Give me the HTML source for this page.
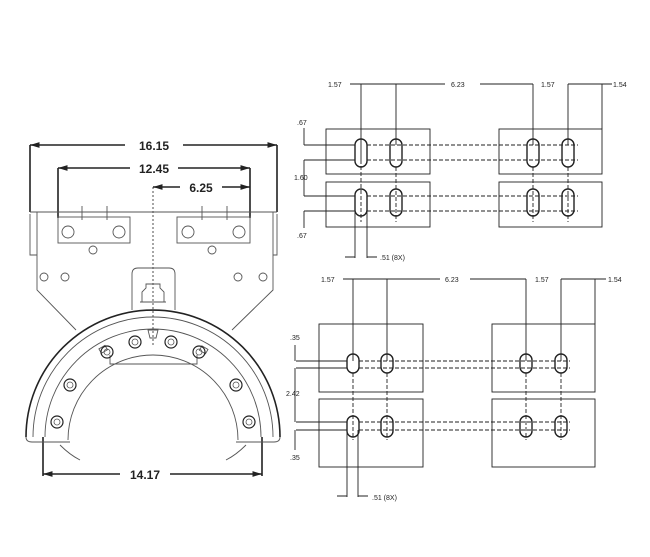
<!DOCTYPE html>
<html><head><meta charset="utf-8"><style>
html,body{margin:0;padding:0;background:#fff;}
svg{display:block;}
text{font-family:"Liberation Sans",sans-serif;fill:#222;}
.t{font-size:12px;font-weight:bold;}
.s{font-size:7px;}
</style></head><body>
<svg width="650" height="557" viewBox="0 0 650 557" xmlns="http://www.w3.org/2000/svg">
<defs>
<marker id="a" viewBox="0 0 10 10" refX="10" refY="5" markerWidth="6" markerHeight="6" orient="auto-start-reverse"><path d="M0,2 L10,5 L0,8 z" fill="#222"/></marker>
</defs>
<!-- LEFT DRAWING -->
<g stroke="#222" fill="none">
<!-- dims -->
<g stroke-width="1.6">
<line x1="30" y1="145" x2="125" y2="145" marker-start="url(#a)"/><line x1="183" y1="145" x2="277" y2="145" marker-end="url(#a)"/>
<line x1="58" y1="168" x2="130" y2="168" marker-start="url(#a)"/><line x1="178" y1="168" x2="250" y2="168" marker-end="url(#a)"/>
<line x1="153" y1="187" x2="180" y2="187" marker-start="url(#a)"/><line x1="222" y1="187" x2="250" y2="187" marker-end="url(#a)"/>
<line x1="43" y1="474" x2="120" y2="474" marker-start="url(#a)"/><line x1="170" y1="474" x2="262" y2="474" marker-end="url(#a)"/>
<line x1="30" y1="145" x2="30" y2="212"/><line x1="277" y1="145" x2="277" y2="212"/>
<line x1="58" y1="168" x2="58" y2="218"/><line x1="250" y1="168" x2="250" y2="218"/>
<line x1="43" y1="437" x2="43" y2="476"/><line x1="262" y1="437" x2="262" y2="476"/>
</g>
<line x1="153" y1="187" x2="153" y2="345" stroke-width="0.8" stroke-dasharray="2,2"/>
<g stroke="#555" stroke-width="0.9">
<!-- plate -->
<path d="M30,212 L277,212 M37,212 L37,290 L76,330 M273,212 L273,290 L232,330"/>
<path d="M30,214 L30,255 L37,255 M277,214 L277,255 L273,255"/>
<rect x="58" y="217" width="72" height="26"/><rect x="177" y="217" width="73" height="26"/>
<circle cx="68" cy="232" r="6"/><circle cx="119" cy="232" r="6"/><circle cx="188" cy="232" r="6"/><circle cx="239" cy="232" r="6"/>
<path d="M82,206 V220 M107,206 V220 M202,206 V220 M227,206 V220"/>
<circle cx="93" cy="250" r="4"/><circle cx="212" cy="250" r="4"/>
<circle cx="44" cy="277" r="4"/><circle cx="65" cy="277" r="4"/><circle cx="238" cy="277" r="4"/><circle cx="263" cy="277" r="4"/>
<!-- center mount -->
<path d="M132,310 V274 Q132,268 138,268 H169 Q175,268 175,274 V310"/>
<path d="M142,302 V292 L146,288 V284 H160 V288 L164,292 V302 M140,302 H166"/>
<!-- arc -->
<path d="M26,437 A127,127 0 0 1 280,437" stroke-width="1.6" stroke="#222"/>
<path d="M33,437 A120,120 0 0 1 273,437"/>
<path d="M26,437 Q26,442 32,442 L70,442 M280,437 Q280,442 274,442 L236,442"/>
<path d="M45,437 A108,108 0 0 1 261,437"/>
<path d="M68,440 A85,85 0 0 1 238,440"/>
<path d="M110,355 V364 H197 V355"/>
<path d="M148,330 H158 L156,338 H150 Z"/>
<path d="M60,445 Q70,455 80,460 M246,445 Q236,455 226,460"/>
<rect x="100" y="347" width="7" height="5" transform="rotate(-30 103 350)"/>
<rect x="200" y="347" width="7" height="5" transform="rotate(30 203 350)"/>
</g>
<g stroke="#222" stroke-width="1.2">
<circle cx="107" cy="352" r="6"/><circle cx="135" cy="342" r="6"/><circle cx="171" cy="342" r="6"/><circle cx="199" cy="352" r="6"/>
<circle cx="70" cy="385" r="6"/><circle cx="236" cy="385" r="6"/><circle cx="57" cy="422" r="6"/><circle cx="249" cy="422" r="6"/>
</g>
<g stroke="#555" stroke-width="0.8">
<circle cx="107" cy="352" r="3"/><circle cx="135" cy="342" r="3"/><circle cx="171" cy="342" r="3"/><circle cx="199" cy="352" r="3"/>
<circle cx="70" cy="385" r="3"/><circle cx="236" cy="385" r="3"/><circle cx="57" cy="422" r="3"/><circle cx="249" cy="422" r="3"/>
</g>
</g>
<g class="t">
<text x="154" y="150" text-anchor="middle" class="t">16.15</text>
<text x="154" y="173" text-anchor="middle" class="t">12.45</text>
<text x="201" y="192" text-anchor="middle" class="t">6.25</text>
<text x="145" y="479" text-anchor="middle" class="t">14.17</text>
</g>

<!-- TOP RIGHT -->
<g stroke="#222" fill="none" stroke-width="0.9">
<line x1="350" y1="84" x2="445" y2="84"/><line x1="480" y1="84" x2="533" y2="84"/><line x1="568" y1="84" x2="612" y2="84"/>
<path d="M361,84 V160 M396,84 V145 M533,84 V145 M568,84 V145 M602,84 V129"/>
<rect x="326" y="129" width="104" height="45"/><rect x="326" y="182" width="104" height="45"/>
<rect x="499" y="129" width="103" height="45"/><rect x="499" y="182" width="103" height="45"/>
<g stroke-width="1.4">
<rect x="355" y="139" width="12" height="28" rx="6"/><rect x="390" y="139" width="12" height="28" rx="6"/>
<rect x="527" y="139" width="12" height="28" rx="6"/><rect x="562" y="139" width="12" height="28" rx="6"/>
<rect x="355" y="189" width="12" height="27" rx="6"/><rect x="390" y="189" width="12" height="27" rx="6"/>
<rect x="527" y="189" width="12" height="27" rx="6"/><rect x="562" y="189" width="12" height="27" rx="6"/>
</g>
<path d="M304,145 H355 M304,160 H355 M304,196 H355 M304,211 H355"/>
<path d="M367,145 H578 M367,160 H578 M367,196 H578 M367,211 H578 M361,160 V222 M396,167 V222 M533,167 V222 M568,167 V222" stroke-dasharray="4,2"/>
<path d="M304,128 V145 M304,160 V196 M304,211 V228"/>
<path d="M355,210 V258 M367,210 V258 M345,257 H355 M367,257 H377"/>
</g>
<g class="s">
<text x="328" y="87">1.57</text><text x="451" y="87">6.23</text><text x="541" y="87">1.57</text><text x="613" y="87">1.54</text>
<text x="297" y="125">.67</text><text x="294" y="180">1.60</text><text x="297" y="238">.67</text>
<text x="380" y="260">.51 (8X)</text>
</g>

<!-- BOTTOM RIGHT -->
<g stroke="#222" fill="none" stroke-width="0.9">
<line x1="343" y1="279" x2="440" y2="279"/><line x1="470" y1="279" x2="526" y2="279"/><line x1="561" y1="279" x2="606" y2="279"/>
<path d="M353,279 V361 M387,279 V361 M526,279 V361 M561,279 V361 M595,279 V324"/>
<rect x="319" y="324" width="104" height="68"/><rect x="319" y="399" width="104" height="68"/>
<rect x="492" y="324" width="103" height="68"/><rect x="492" y="399" width="103" height="68"/>
<g stroke-width="1.4">
<rect x="347" y="354" width="12" height="19" rx="6"/><rect x="381" y="354" width="12" height="19" rx="6"/>
<rect x="520" y="354" width="12" height="19" rx="6"/><rect x="555" y="354" width="12" height="19" rx="6"/>
<rect x="347" y="416" width="12" height="21" rx="6"/><rect x="381" y="416" width="12" height="21" rx="6"/>
<rect x="520" y="416" width="12" height="21" rx="6"/><rect x="555" y="416" width="12" height="21" rx="6"/>
</g>
<path d="M296,361 H347 M296,368 H347 M296,422 H347 M296,430 H347"/>
<path d="M359,361 H570 M359,368 H570 M359,422 H570 M359,430 H570 M353,373 V440 M387,373 V440 M526,373 V440 M561,373 V440" stroke-dasharray="4,2"/>
<path d="M295,345 V361 M295,368 V422 M295,430 V450"/>
<path d="M347,430 V497 M358,430 V497 M337,496 H347 M358,496 H368"/>
</g>
<g class="s">
<text x="321" y="282">1.57</text><text x="445" y="282">6.23</text><text x="535" y="282">1.57</text><text x="608" y="282">1.54</text>
<text x="290" y="340">.35</text><text x="286" y="396">2.42</text><text x="290" y="460">.35</text>
<text x="372" y="500">.51 (8X)</text>
</g>
</svg>
</body></html>
